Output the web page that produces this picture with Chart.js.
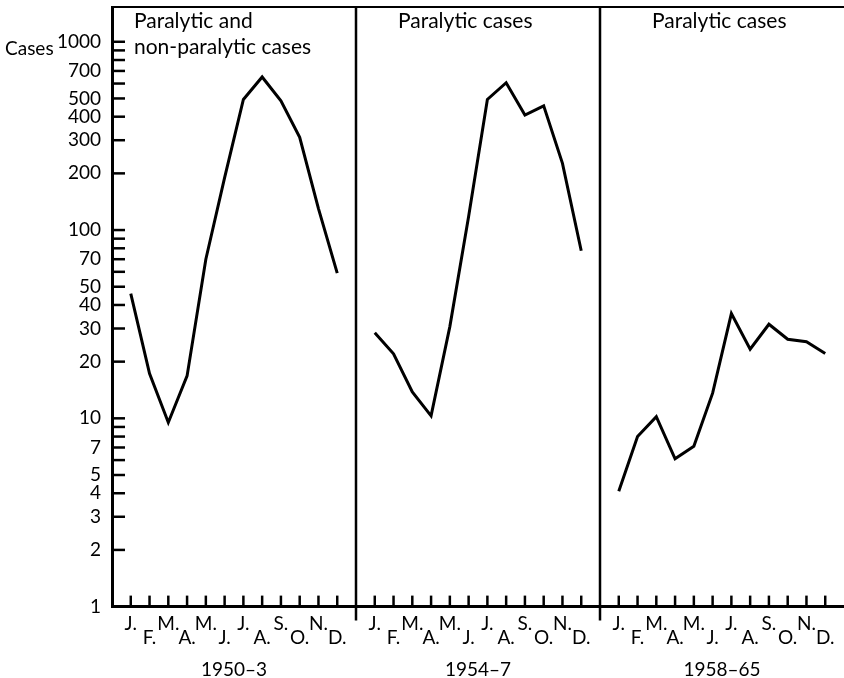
<!DOCTYPE html>
<html><head><meta charset="utf-8">
<script src="https://cdn.jsdelivr.net/npm/chart.js@4.4.0/dist/chart.umd.min.js"></script>
<style>html,body{margin:0;padding:0;background:#fff}#wrap{width:844px;height:678px;position:relative}</style>
</head><body><div id="wrap"><canvas id="c"></canvas></div>
<script>
// ---- data ----
const months = ["J.","F.","M.","A.","M.","J.","J.","A.","S.","O.","N.","D."];
const periods = ["1950–3","1954–7","1958–65"];
const panelTitles = [["Paralytic and","non-paralytic cases"],["Paralytic cases"],["Paralytic cases"]];
const cases1950_3  = [46, 17.3, 9.5, 16.8, 70, 190, 494, 650, 486, 311, 130, 59];
const cases1954_7  = [28.5, 22, 13.8, 10.3, 30.7, 118, 494, 606, 408, 457, 226, 77.6];
const cases1958_65 = [4.1, 8, 10.2, 6.1, 7.1, 13.6, 36, 23.3, 31.6, 26.3, 25.5, 22.1];
const yTickValues = [1,2,3,4,5,6,7,8,9,10,20,30,40,50,60,70,80,90,100,200,300,400,500,600,700,800,900,1000];
const yTickLabels = [1,2,3,4,5,7,10,20,30,40,50,70,100,200,300,400,500,700,1000];
const yAxisTitle = "Cases";

// ---- layout ----
const FONT = "Lato, 'Open Sans', sans-serif";
const PANEL = 13; // slots per panel on x scale
const titleOffsets = [22, 42, 52];
const series = [cases1950_3, cases1954_7, cases1958_65];
const monthPositions = [];
series.forEach((s,p)=>s.forEach((v,i)=>monthPositions.push(p*PANEL+i)));

const datasets = series.map((vals,p)=>({
  data: vals.map((v,i)=>({x:p*PANEL+i, y:v})),
  borderColor:'#000', borderWidth:3, pointRadius:0, tension:0, fill:false,
  borderJoinStyle:'miter', borderCapStyle:'butt'
}));

const deco = {
  id:'deco',
  afterDraw(chart){
    const {ctx, chartArea:a, scales:{x,y}} = chart;
    ctx.save();
    ctx.strokeStyle='#000';
    ctx.lineCap='butt';
    // top line
    ctx.lineWidth=2;
    ctx.beginPath(); ctx.moveTo(a.left, a.top); ctx.lineTo(a.right, a.top); ctx.stroke();
    // panel dividers
    ctx.lineWidth=2.5;
    for (let p=1;p<3;p++){
      const px = x.getPixelForValue(p*PANEL-1);
      ctx.beginPath(); ctx.moveTo(px, a.top); ctx.lineTo(px, a.bottom+14); ctx.stroke();
    }
    // y ticks (inward)
    yTickValues.forEach(v=>{
      if (v===1) return;
      const py = y.getPixelForValue(v);
      ctx.beginPath(); ctx.moveTo(a.left, py); ctx.lineTo(a.left+13, py); ctx.stroke();
    });
    // x ticks (upward)
    monthPositions.forEach(m=>{
      const px = x.getPixelForValue(m);
      ctx.beginPath(); ctx.moveTo(px, a.bottom); ctx.lineTo(px, a.bottom-11); ctx.stroke();
    });
    // texts
    ctx.fillStyle='#000';
    ctx.textBaseline='alphabetic';
    ctx.font = "21px "+FONT;
    ctx.textAlign='left';
    panelTitles.forEach((lines,p)=>{
      const px = x.getPixelForValue(p*PANEL-1) + titleOffsets[p];
      lines.forEach((t,k)=>ctx.fillText(t, px, 28 + k*26));
    });
    ctx.font = "19px "+FONT;
    ctx.textAlign='center';
    periods.forEach((t,p)=>{
      const px = x.getPixelForValue(p*PANEL+5.5);
      ctx.fillText(t, px, 676);
    });
    ctx.font = "19px "+FONT;
    ctx.textAlign='left';
    ctx.fillText(yAxisTitle, 5, 55);
    ctx.restore();
  }
};

new Chart(document.getElementById('c'), {
  type:'line',
  data:{datasets},
  options:{
    responsive:true, maintainAspectRatio:false, animation:false,
    layout:{padding:{top:7, left:0, right:0, bottom:0}},
    plugins:{legend:{display:false}, tooltip:{enabled:false}},
    scales:{
      x:{
        type:'linear', min:-1, max:3*PANEL-1, bounds:'data',
        afterBuildTicks:(s)=>{ s.ticks = monthPositions.map(v=>({value:v})); },
        afterFit:(s)=>{ s.height = 71.4; s.paddingLeft = 0; s.paddingRight = 0; },
        grid:{display:false, drawTicks:false},
        border:{display:true, width:3, color:'#000'},
        ticks:{
          autoSkip:false, maxRotation:0, minRotation:0, padding:11, color:'#000',
          font:{family:FONT, size:19, lineHeight:13.5/19},
          callback:(v)=>{ const i = ((v%PANEL)+PANEL)%PANEL; return i%2===0 ? [months[i], ''] : ['', months[i]]; }
        }
      },
      y:{
        type:'logarithmic', min:1, max:1530, bounds:'data',
        afterBuildTicks:(s)=>{ s.ticks = yTickValues.map(v=>({value:v})); },
        afterFit:(s)=>{ s.width = 112; s.paddingTop = 0; s.paddingBottom = 0; },
        grid:{display:false, drawTicks:false},
        border:{display:true, width:3, color:'#000'},
        ticks:{
          autoSkip:false, padding:11, color:'#000',
          font:{family:FONT, size:19},
          callback:(v)=> yTickLabels.includes(v) ? String(v) : ''
        }
      }
    }
  },
  plugins:[deco]
});
</script>
</body></html>
